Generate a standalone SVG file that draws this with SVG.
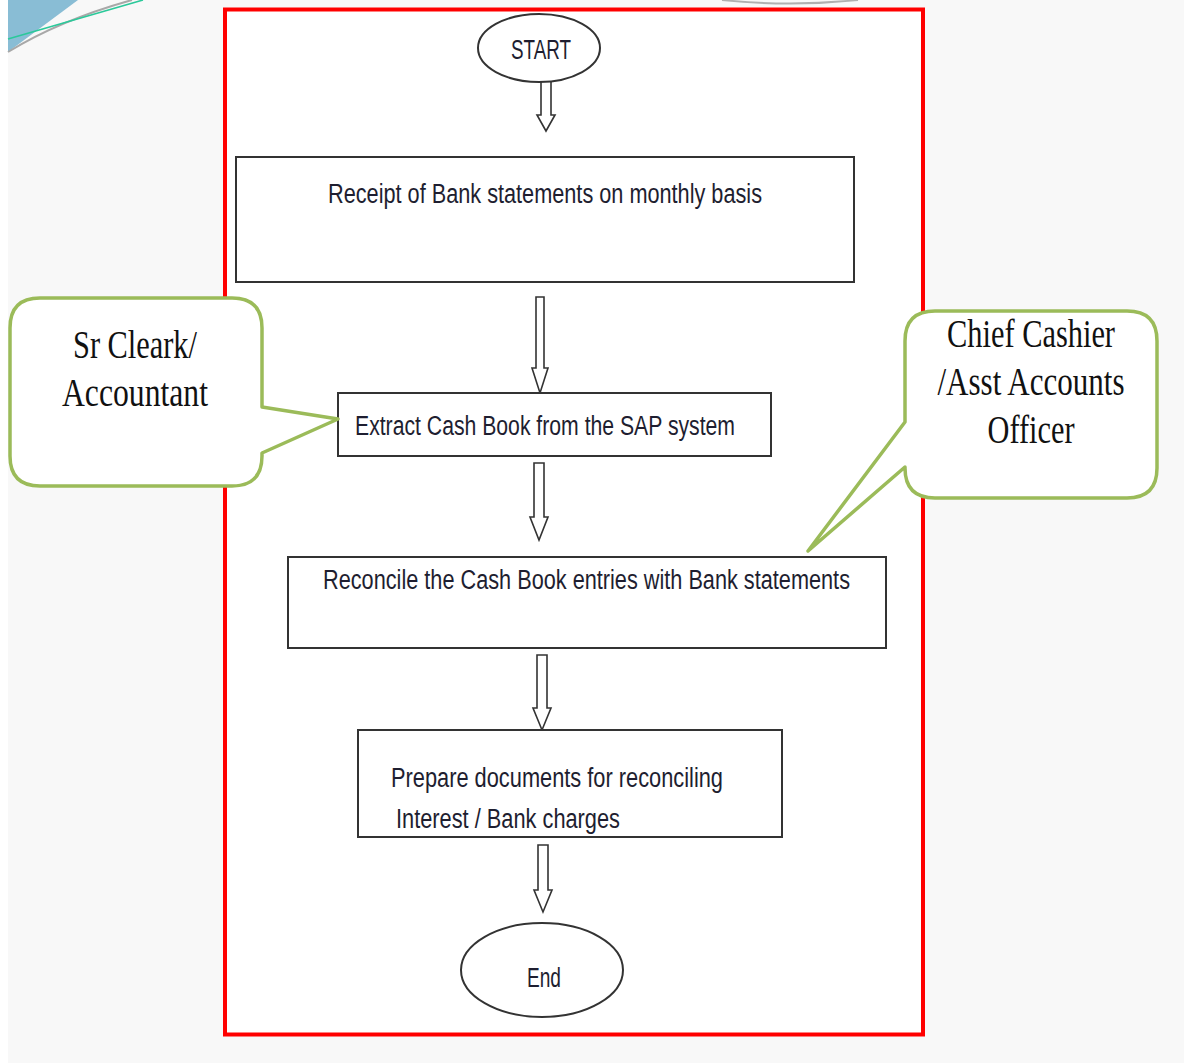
<svg xmlns="http://www.w3.org/2000/svg" width="1184" height="1063" viewBox="0 0 1184 1063">
<style>
.box{fill:#fff;stroke:#333;stroke-width:2}
.arr{fill:#fff;stroke:#333;stroke-width:1.6;stroke-linejoin:miter}
.t{font-family:"Liberation Sans Narrow","Liberation Sans",sans-serif;font-size:27px;fill:#1e1e30}
.c{fill:#fff;stroke:#9bbb59;stroke-width:3.5;stroke-linejoin:round}
.ct{font-family:"Liberation Serif",serif;font-size:41px;fill:#111;text-anchor:middle}
</style>
<rect x="0" y="0" width="1184" height="1063" fill="#f8f8f8"/>
<rect x="0" y="0" width="8" height="1063" fill="#fff"/>
<polygon points="8,0 78,0 8,52" fill="#89bdd5"/>
<path d="M8 52 Q 60 20 132 0" fill="none" stroke="#a8a8a8" stroke-width="2"/>
<line x1="8" y1="39" x2="143" y2="0" stroke="#2bc99a" stroke-width="1.6"/>
<path d="M722 0 Q 790 7 858 0" fill="none" stroke="#b0b0b0" stroke-width="2"/>
<rect x="225" y="9.5" width="698" height="1025" fill="#fff" stroke="#ff0000" stroke-width="4"/>

<g id="connectors">
<path class="arr" d="M541 80 H551 V115 H555 L546 131 L537 115 H541 Z"/>
<path class="arr" d="M536 297 H544 V368 H548 L540 393 L532 368 H536 Z"/>
<path class="arr" d="M534 463 H544 V517 H548 L539 540 L530 517 H534 Z"/>
<path class="arr" d="M537 655 H547 V708 H551 L542 730 L533 708 H537 Z"/>
<path class="arr" d="M538 845 H548 V890 H552 L543 912 L534 890 H538 Z"/>
</g>

<g id="start">
<ellipse cx="539" cy="48" rx="61" ry="34" class="box"/>
<text class="t" x="541" y="59" text-anchor="middle" textLength="60" lengthAdjust="spacingAndGlyphs">START</text>
</g>
<g id="receipt">
<rect x="236" y="157" width="618" height="125" class="box"/>
<text class="t" x="328" y="203" textLength="434" lengthAdjust="spacingAndGlyphs">Receipt of Bank statements on monthly basis</text>
</g>
<g id="extract">
<rect x="338" y="393" width="433" height="63" class="box"/>
<text class="t" x="355" y="435" textLength="380" lengthAdjust="spacingAndGlyphs">Extract Cash Book from the SAP system</text>
</g>
<g id="reconcile">
<rect x="288" y="557" width="598" height="91" class="box"/>
<text class="t" x="323" y="589" textLength="527" lengthAdjust="spacingAndGlyphs">Reconcile the Cash Book entries with Bank statements</text>
</g>
<g id="prepare">
<rect x="358" y="730" width="424" height="107" class="box"/>
<text class="t" x="391" y="787" textLength="332" lengthAdjust="spacingAndGlyphs">Prepare documents for reconciling</text>
<text class="t" x="396" y="828" textLength="224" lengthAdjust="spacingAndGlyphs">Interest / Bank charges</text>
</g>
<g id="end">
<ellipse cx="542" cy="970" rx="81" ry="47" class="box"/>
<text class="t" x="544" y="987" text-anchor="middle" textLength="34" lengthAdjust="spacingAndGlyphs">End</text>
</g>

<g id="callout-clerk">
<path class="c" d="M40 298 H232 Q262 298 262 328 V407 L338 419 L262 453 V456 Q262 486 232 486 H40 Q10 486 10 456 V328 Q10 298 40 298 Z"/>
<text class="ct" x="135" y="358" textLength="124" lengthAdjust="spacingAndGlyphs">Sr Cleark/</text>
<text class="ct" x="135" y="406" textLength="146" lengthAdjust="spacingAndGlyphs">Accountant</text>
</g>
<g id="callout-cashier">
<path class="c" d="M935 311 H1127 Q1157 311 1157 341 V468 Q1157 498 1127 498 H935 Q905 498 905 468 V467 L808 551 L905 422 V341 Q905 311 935 311 Z"/>
<text class="ct" x="1031" y="347" textLength="168" lengthAdjust="spacingAndGlyphs">Chief Cashier</text>
<text class="ct" x="1031" y="395" textLength="187" lengthAdjust="spacingAndGlyphs">/Asst Accounts</text>
<text class="ct" x="1031" y="443" textLength="87" lengthAdjust="spacingAndGlyphs">Officer</text>
</g>
</svg>
